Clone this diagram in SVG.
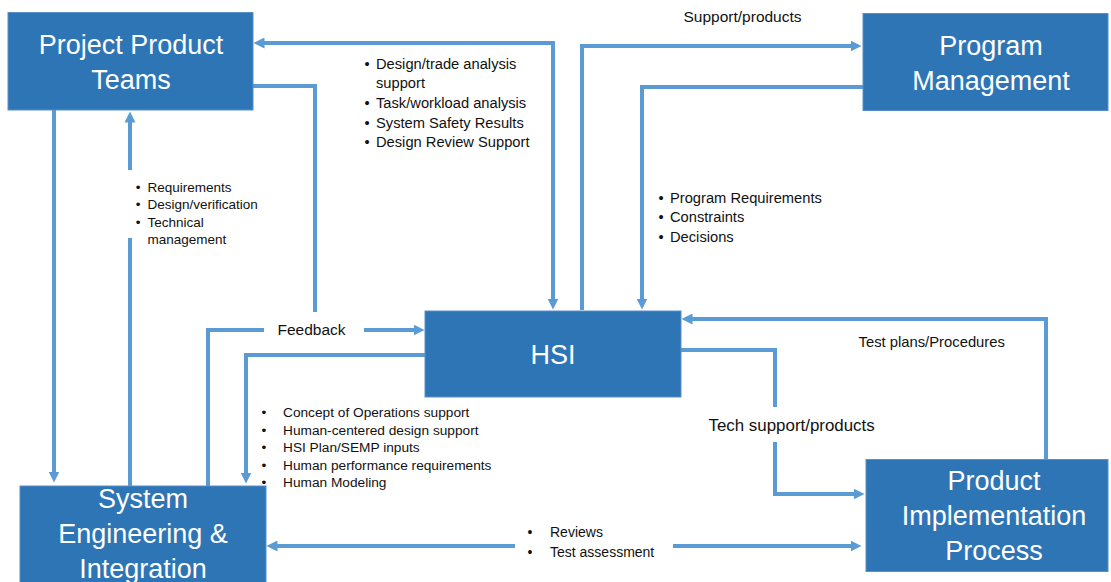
<svg xmlns="http://www.w3.org/2000/svg" width="1111" height="582" viewBox="0 0 1111 582">
<defs>
<style>
.box{fill:#2E75B6;stroke:#5B8FC8;stroke-width:1}
.bt{fill:#fff;font-family:"Liberation Sans",Arial,sans-serif;font-size:27px;text-anchor:middle}
.c{fill:none;stroke:#5B9BD5;stroke-width:4}
.t{fill:#111;font-family:"Liberation Sans",Arial,sans-serif}
.b{text-anchor:middle}
</style>
<marker id="ah" viewBox="0 0 11 11" refX="0.5" refY="5.5" markerWidth="11" markerHeight="11" markerUnits="userSpaceOnUse" orient="auto-start-reverse">
<path d="M0,0 L11,5.5 L0,11 z" fill="#5B9BD5"/>
</marker>
</defs>
<rect width="1111" height="582" fill="#fff"/>

<g id="connectors">
<polyline class="c" points="553,299 553,43 264,43" marker-start="url(#ah)" marker-end="url(#ah)"/>
<polyline class="c" points="253,86 315,86 315,312"/>
<line class="c" x1="364" y1="330" x2="414" y2="330" marker-end="url(#ah)"/>
<line class="c" x1="54" y1="110" x2="54" y2="472" marker-end="url(#ah)"/>
<line class="c" x1="130" y1="486" x2="130" y2="238"/>
<line class="c" x1="130" y1="170" x2="130" y2="122" marker-end="url(#ah)"/>
<polyline class="c" points="208,486 208,330 264,330"/>
<polyline class="c" points="425,355 246,355 246,473" marker-end="url(#ah)"/>
<polyline class="c" points="582,310 582,46 851,46" marker-end="url(#ah)"/>
<polyline class="c" points="863,87 642,87 642,299" marker-end="url(#ah)"/>
<polyline class="c" points="681,350 775,350 775,407"/>
<polyline class="c" points="775,442 775,494 854,494" marker-end="url(#ah)"/>
<polyline class="c" points="1046,466 1046,319 692,319" marker-end="url(#ah)"/>
<line class="c" x1="515" y1="546" x2="277" y2="546" marker-end="url(#ah)"/>
<line class="c" x1="673" y1="546" x2="851" y2="546" marker-end="url(#ah)"/>
</g>

<g id="ppt">
<rect class="box" x="8" y="12.5" width="245" height="97.5"/>
<text class="bt" x="131" y="53.5">Project Product</text>
<text class="bt" x="131" y="88.5">Teams</text>
</g>

<g id="pm">
<rect class="box" x="863" y="13.5" width="245" height="97"/>
<text class="bt" x="991" y="55">Program</text>
<text class="bt" x="991" y="90">Management</text>
</g>

<g id="hsi">
<rect class="box" x="425" y="311" width="256" height="86"/>
<text class="bt" x="553" y="364">HSI</text>
</g>

<g id="sei">
<rect class="box" x="20" y="486" width="246" height="100"/>
<text class="bt" x="143" y="508">System</text>
<text class="bt" x="143" y="543">Engineering &amp;</text>
<text class="bt" x="143" y="578">Integration</text>
</g>

<g id="pip">
<rect class="box" x="866" y="459.5" width="242" height="112"/>
<text class="bt" x="994" y="490">Product</text>
<text class="bt" x="994" y="525" font-size="27.5">Implementation</text>
<text class="bt" x="994" y="560">Process</text>
</g>

<g id="labels">
<text class="t" x="683.5" y="21.5" font-size="15.5">Support/products</text>

<g font-size="14.7">
<text class="t b" x="367" y="69">•</text><text class="t" x="376" y="69">Design/trade analysis</text>
<text class="t" x="376" y="88">support</text>
<text class="t b" x="367" y="108">•</text><text class="t" x="376" y="108">Task/workload analysis</text>
<text class="t b" x="367" y="128">•</text><text class="t" x="376" y="128">System Safety Results</text>
<text class="t b" x="367" y="147">•</text><text class="t" x="376" y="147">Design Review Support</text>
</g>

<g font-size="13.5">
<text class="t b" x="138" y="191.5">•</text><text class="t" x="147.5" y="191.5">Requirements</text>
<text class="t b" x="138" y="209">•</text><text class="t" x="147.5" y="209">Design/verification</text>
<text class="t b" x="138" y="226.5">•</text><text class="t" x="147.5" y="226.5">Technical</text>
<text class="t" x="147.5" y="244">management</text>
</g>

<g font-size="14.7">
<text class="t b" x="661" y="203">•</text><text class="t" x="670" y="203">Program Requirements</text>
<text class="t b" x="661" y="222">•</text><text class="t" x="670" y="222">Constraints</text>
<text class="t b" x="661" y="242">•</text><text class="t" x="670" y="242">Decisions</text>
</g>

<text class="t" x="277.5" y="334.5" font-size="15.5">Feedback</text>

<g font-size="13.7">
<text class="t b" x="264" y="417">•</text><text class="t" x="283" y="417">Concept of Operations support</text>
<text class="t b" x="264" y="434.5">•</text><text class="t" x="283" y="434.5">Human-centered design support</text>
<text class="t b" x="264" y="452">•</text><text class="t" x="283" y="452">HSI Plan/SEMP inputs</text>
<text class="t b" x="264" y="469.5">•</text><text class="t" x="283" y="469.5">Human performance requirements</text>
<text class="t b" x="264" y="487">•</text><text class="t" x="283" y="487">Human Modeling</text>
</g>

<text class="t" x="858.5" y="347" font-size="14.8">Test plans/Procedures</text>
<text class="t" x="708.5" y="431" font-size="16.9">Tech support/products</text>

<g font-size="14">
<text class="t b" x="530" y="537">•</text><text class="t" x="550" y="537">Reviews</text>
<text class="t b" x="530" y="557">•</text><text class="t" x="550" y="557">Test assessment</text>
</g>
</g>
</svg>
